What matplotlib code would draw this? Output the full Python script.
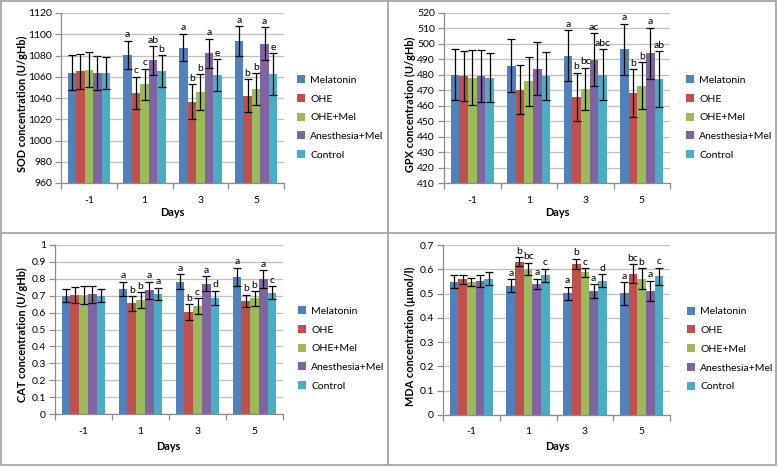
import matplotlib
matplotlib.use("Agg")
import matplotlib.pyplot as plt
from matplotlib.patches import Patch
from matplotlib.lines import Line2D
import numpy as np

plt.rcParams['font.family'] = ['Lato', 'DejaVu Sans']

W, H = 778, 467

days = ["-1", "1", "3", "5"]
series = ["Melatonin", "OHE", "OHE+Mel", "Anesthesia+Mel", "Control"]
colors = ["#4F81BD", "#C0504D", "#9BBB59", "#8064A2", "#4BACC6"]

# ---- SOD ----
sod_mean = [
    [1064, 1080.5, 1087.5, 1093.5],
    [1065, 1045, 1036.5, 1042],
    [1066.5, 1053, 1045.5, 1048.5],
    [1064, 1075.5, 1082, 1091],
    [1063.5, 1065.5, 1061.5, 1062.5],
]
sod_err = [
    [16.5, 13.5, 13, 14],
    [16.5, 15, 16.5, 15.5],
    [16.5, 14.5, 17, 15],
    [16, 13.5, 14, 15.5],
    [15, 15, 15, 19.5],
]
sod_letters = [
    ["", "a", "a", "a"],
    ["", "c", "b", "b"],
    ["", "c", "b", "b"],
    ["", "ab", "a", "a"],
    ["", "b", "e", "e"],
]
sod_ticks = [960, 980, 1000, 1020, 1040, 1060, 1080, 1100, 1120]

# ---- GPX ----
gpx_mean = [
    [480, 485.7, 492, 496.4],
    [479, 470.3, 465.7, 468],
    [478, 475.5, 470.7, 472.8],
    [479, 483.8, 489.6, 493.7],
    [478, 479, 480, 477],
]
gpx_err = [
    [16.5, 17, 16.5, 16.5],
    [16, 15.8, 15.5, 15.5],
    [17.5, 16, 13.6, 15.2],
    [16.6, 17, 17, 16.5],
    [16, 15.2, 16.3, 18],
]
gpx_letters = [
    ["", "", "a", "a"],
    ["", "", "b", "b"],
    ["", "", "bc", "b"],
    ["", "", "ac", "a"],
    ["", "", "abc", "ab"],
]
gpx_ticks = [410, 420, 430, 440, 450, 460, 470, 480, 490, 500, 510, 520]

# ---- CAT ----
cat_mean = [
    [0.700, 0.740, 0.784, 0.811],
    [0.703, 0.655, 0.603, 0.670],
    [0.703, 0.674, 0.637, 0.684],
    [0.708, 0.733, 0.770, 0.800],
    [0.700, 0.711, 0.688, 0.718],
]
cat_err = [
    [0.040, 0.042, 0.043, 0.055],
    [0.046, 0.043, 0.045, 0.036],
    [0.055, 0.047, 0.047, 0.043],
    [0.050, 0.050, 0.044, 0.052],
    [0.040, 0.037, 0.042, 0.040],
]
cat_letters = [
    ["", "a", "a", "a"],
    ["", "b", "b", "b"],
    ["", "b", "c", "b"],
    ["", "a", "a", "a"],
    ["", "a", "d", "c"],
]
cat_ticks = [0, 0.1, 0.2, 0.3, 0.4, 0.5, 0.6, 0.7, 0.8, 0.9, 1.0]
cat_ticklabels = ["0", "0.1", "0.2", "0.3", "0.4", "0.5", "0.6", "0.7", "0.8", "0.9", "1"]

# ---- MDA ----
mda_mean = [
    [0.549, 0.533, 0.501, 0.501],
    [0.558, 0.632, 0.622, 0.582],
    [0.549, 0.601, 0.587, 0.562],
    [0.552, 0.540, 0.510, 0.512],
    [0.562, 0.575, 0.553, 0.572],
]
mda_err = [
    [0.028, 0.025, 0.028, 0.047],
    [0.020, 0.019, 0.021, 0.038],
    [0.016, 0.026, 0.017, 0.042],
    [0.026, 0.022, 0.028, 0.041],
    [0.026, 0.027, 0.026, 0.035],
]
mda_letters = [
    ["", "a", "a", "a"],
    ["", "b", "b", "bc"],
    ["", "bc", "c", "b"],
    ["", "a", "a", "a"],
    ["", "c", "d", "c"],
]
mda_ticks = [0, 0.1, 0.2, 0.3, 0.4, 0.5, 0.6, 0.7]
mda_ticklabels = ["0", "0.1", "0.2", "0.3", "0.4", "0.5", "0.6", "0.7"]

FS = 7.5
FSL = 7.9
GRID = "#BFBFBF"
SPINE = "#8C8C8C"

fig = plt.figure(figsize=(W / 100, H / 100), dpi=100)
fig.patch.set_facecolor("white")


def rect(x0, x1, y0, y1):
    return [x0 / W, 1 - y1 / H, (x1 - x0) / W, (y1 - y0) / H]


def panel(pos, mean, err, letters, ticks, ticklabels, ylabel,
          ylab_xy, days_xy, leg_xy):
    ax = fig.add_axes(rect(*pos))
    n = len(series)
    bw = 0.153
    x = np.arange(len(days))
    for i in range(n):
        xs = x + (i - (n - 1) / 2) * bw
        ax.bar(xs, mean[i], bw, color=colors[i], zorder=2, linewidth=0)
        ax.errorbar(xs, mean[i], yerr=err[i], fmt='none', ecolor='black',
                    elinewidth=0.9, capsize=2.8, capthick=0.9, zorder=3)
        for j in range(len(days)):
            if letters[i][j]:
                ax.annotate(letters[i][j], (xs[j], mean[i][j] + err[i][j]),
                            xytext=(0, 1.0), textcoords='offset points',
                            ha='center', va='bottom', fontsize=FS, zorder=4)
    ax.set_xlim(-0.5, len(days) - 0.5)
    ax.set_ylim(ticks[0], ticks[-1])
    ax.set_yticks(ticks)
    ax.set_yticklabels(ticklabels if ticklabels else [str(t) for t in ticks])
    ax.set_xticks(x)
    ax.set_xticklabels(days)
    ax.set_xticks(np.arange(-0.5, len(days), 1.0), minor=True)
    ax.tick_params(axis='x', which='major', length=0, pad=9, labelsize=FS)
    ax.tick_params(axis='x', which='minor', length=4, color=SPINE, width=0.9)
    ax.tick_params(axis='y', which='major', length=4, color=SPINE, width=0.9,
                   pad=2.5, labelsize=FS)
    ax.yaxis.grid(True, color=GRID, linewidth=0.9, zorder=0)
    ax.set_axisbelow(True)
    for s in ["top", "right"]:
        ax.spines[s].set_visible(False)
    for s in ["left", "bottom"]:
        ax.spines[s].set_color(SPINE)
        ax.spines[s].set_linewidth(0.9)
    fig.text(ylab_xy[0] / W, 1 - ylab_xy[1] / H, ylabel, rotation=90,
             ha='center', va='center', fontsize=FSL, fontweight='bold')
    fig.text(days_xy[0] / W, 1 - days_xy[1] / H, "Days",
             ha='center', va='center', fontsize=FSL, fontweight='bold')
    handles = [Patch(facecolor=c, edgecolor='none') for c in colors]
    ax.legend(handles, series, loc='center left',
              bbox_to_anchor=(leg_xy[0] / W, 1 - leg_xy[1] / H),
              bbox_transform=fig.transFigure, frameon=False, fontsize=FS,
              handlelength=0.8, handleheight=0.8, handletextpad=0.45,
              labelspacing=0.88, borderpad=0, borderaxespad=0)
    return ax


panel((61, 284, 13, 183), sod_mean, sod_err, sod_letters, sod_ticks, None,
      "SOD concentration (U/gHb)", (22, 104), (172, 213), (297, 117.5))
panel((444, 670, 12.5, 183), gpx_mean, gpx_err, gpx_letters, gpx_ticks, None,
      "GPX concentration (U/gHb)", (410, 104), (557, 213), (686, 117.5))
panel((55, 283, 245, 414), cat_mean, cat_err, cat_letters, cat_ticks,
      cat_ticklabels, "CAT concentration (U/gHb)", (22, 335), (168, 446),
      (298, 348.5))
panel((443, 670, 245, 415), mda_mean, mda_err, mda_letters, mda_ticks,
      mda_ticklabels, "MDA concentration (µmol/l)", (410, 336), (557, 446),
      (687, 349))

# panel borders
border = "#A6A6A6"
def fline(xs, ys):
    fig.add_artist(Line2D([v / W for v in xs], [1 - v / H for v in ys],
                          color=border, linewidth=1.3))

fline([1, 776, 776, 1, 1], [1, 1, 465, 465, 1])
fline([388, 388], [1, 465])
fline([1, 776], [233, 233])

fig.savefig("out.png", dpi=100)
